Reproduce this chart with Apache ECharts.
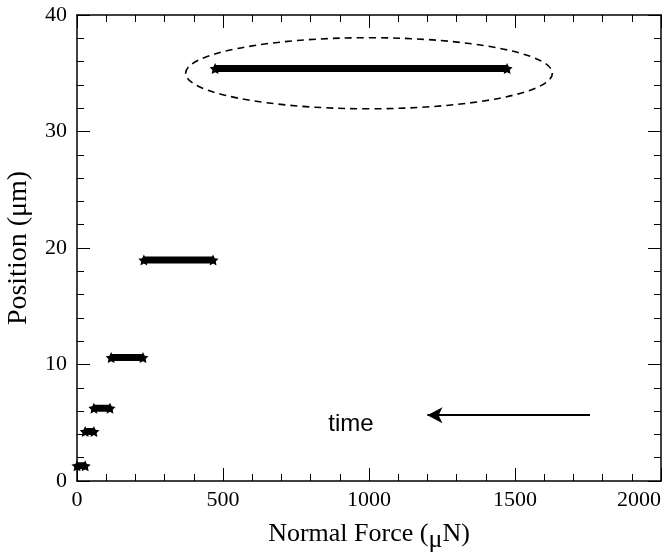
<!DOCTYPE html>
<html><head><meta charset="utf-8">
<script src="https://cdn.jsdelivr.net/npm/echarts@6/dist/echarts.min.js"></script>
<style>html,body{margin:0;padding:0;background:#fff}#c{width:671px;height:559px}</style>
</head><body><div id="c"></div>
<script>
// Steps: [x start, x end, position]
const stepStartX = [0, 28, 58, 117, 229, 473];
const stepEndX   = [28, 58, 113, 226, 466, 1473];
const stepY      = [1.3, 4.25, 6.25, 10.6, 18.97, 35.4];
const xTicks = [0, 500, 1000, 1500, 2000];
const yTicks = [0, 10, 20, 30, 40];
const ellipseCenter = [1000, 35];
const ellipseRadius = [628, 3.05];
const arrowFrom = [1757, 5.65];
const arrowTo = [1200, 5.65];
const timeLabelPos = [938, 4.85];
const timeText = 'time';

const chart = echarts.init(document.getElementById('c'));
const serif = 'Liberation Serif';
const star = 'path://M0,-10 L2.9,-4 9.5,-3.1 4.7,1.5 5.9,8.1 0,5 -5.9,8.1 -4.7,1.5 -9.5,-3.1 -2.9,-4Z';
const series = [];
for (let i = 0; i < stepY.length; i++) {
  series.push({
    type: 'line',
    data: [[stepStartX[i], stepY[i]], [stepEndX[i], stepY[i]]],
    lineStyle: {color: '#000', width: 7},
    symbol: star,
    symbolSize: 11,
    showSymbol: true,
    itemStyle: {color: '#000'},
    silent: true,
    animation: false,
    z: 3
  });
}

// ellipse annotation
series.push({
  type: 'custom',
  silent: true,
  animation: false,
  data: [[ellipseCenter[0], ellipseCenter[1], ellipseRadius[0], ellipseRadius[1]]],
  renderItem: function (params, api) {
    const c = api.coord([api.value(0), api.value(1)]);
    const s = api.size([api.value(2), api.value(3)]);
    return {
      type: 'ellipse',
      shape: {cx: c[0], cy: c[1], rx: s[0], ry: s[1]},
      style: {fill: null, stroke: '#000', lineWidth: 1.6, lineDash: [7, 5]}
    };
  },
  z: 2
});

// "time" text
series.push({
  type: 'custom',
  silent: true,
  animation: false,
  data: [timeLabelPos],
  renderItem: function (params, api) {
    const c = api.coord([api.value(0), api.value(1)]);
    return {
      type: 'text',
      x: c[0], y: c[1],
      style: {text: timeText, fill: '#000', font: '24px "Liberation Sans"', align: 'center', verticalAlign: 'middle'}
    };
  },
  z: 4
});

// arrow
series.push({
  type: 'line',
  data: [],
  silent: true,
  animation: false,
  markLine: {
    silent: true,
    animation: false,
    symbol: ['none', 'arrow'],
    symbolSize: [12, 15],
    label: {show: false},
    lineStyle: {color: '#000', width: 2.2, type: 'solid'},
    data: [[{coord: arrowFrom}, {coord: arrowTo}]]
  }
});

function axisBase(extra) {
  return Object.assign({
    type: 'value',
    axisLine: {show: true, onZero: false, lineStyle: {color: '#000', width: 1.5}},
    axisTick: {show: true, inside: true, length: 13, lineStyle: {color: '#000', width: 1}},
    minorTick: {show: true, splitNumber: 5, length: 7, lineStyle: {color: '#000', width: 1}},
    splitLine: {show: false},
    minorSplitLine: {show: false}
  }, extra);
}
const plain = v => String(v);

chart.setOption({
  backgroundColor: '#fff',
  animation: false,
  grid: {left: 77, right: 10, top: 15, bottom: 78, containLabel: false, outerBoundsMode: 'none'},
  xAxis: [
    axisBase({
      position: 'bottom',
      min: xTicks[0], max: xTicks[xTicks.length - 1], interval: 500,
      axisLabel: {color: '#000', fontFamily: serif, fontSize: 22, margin: 8, alignMaxLabel: 'right', formatter: plain},
      name: '{a|Normal Force (}{mu|μ}{a|N)}', nameLocation: 'middle', nameGap: 40,
      nameTextStyle: {
        color: '#000', fontFamily: serif, fontSize: 26,
        rich: {
          a: {color: '#000', fontFamily: serif, fontSize: 26, padding: [0, 0, 6, 0]},
          mu: {color: '#000', fontFamily: serif, fontSize: 26, padding: [6, 0, 0, 0]}
        }
      }
    }),
    axisBase({
      position: 'top', min: 0, max: 2000, interval: 500,
      axisLabel: {show: false}
    })
  ],
  yAxis: [
    axisBase({
      position: 'left',
      min: yTicks[0], max: yTicks[yTicks.length - 1], interval: 10,
      axisLabel: {color: '#000', fontFamily: serif, fontSize: 22, margin: 10, formatter: plain},
      name: 'Position (μm)', nameLocation: 'middle', nameGap: 44,
      nameTextStyle: {color: '#000', fontFamily: serif, fontSize: 28}
    }),
    axisBase({
      position: 'right', min: 0, max: 40, interval: 10,
      axisLabel: {show: false}
    })
  ],
  series: series
});
</script>
</body></html>
